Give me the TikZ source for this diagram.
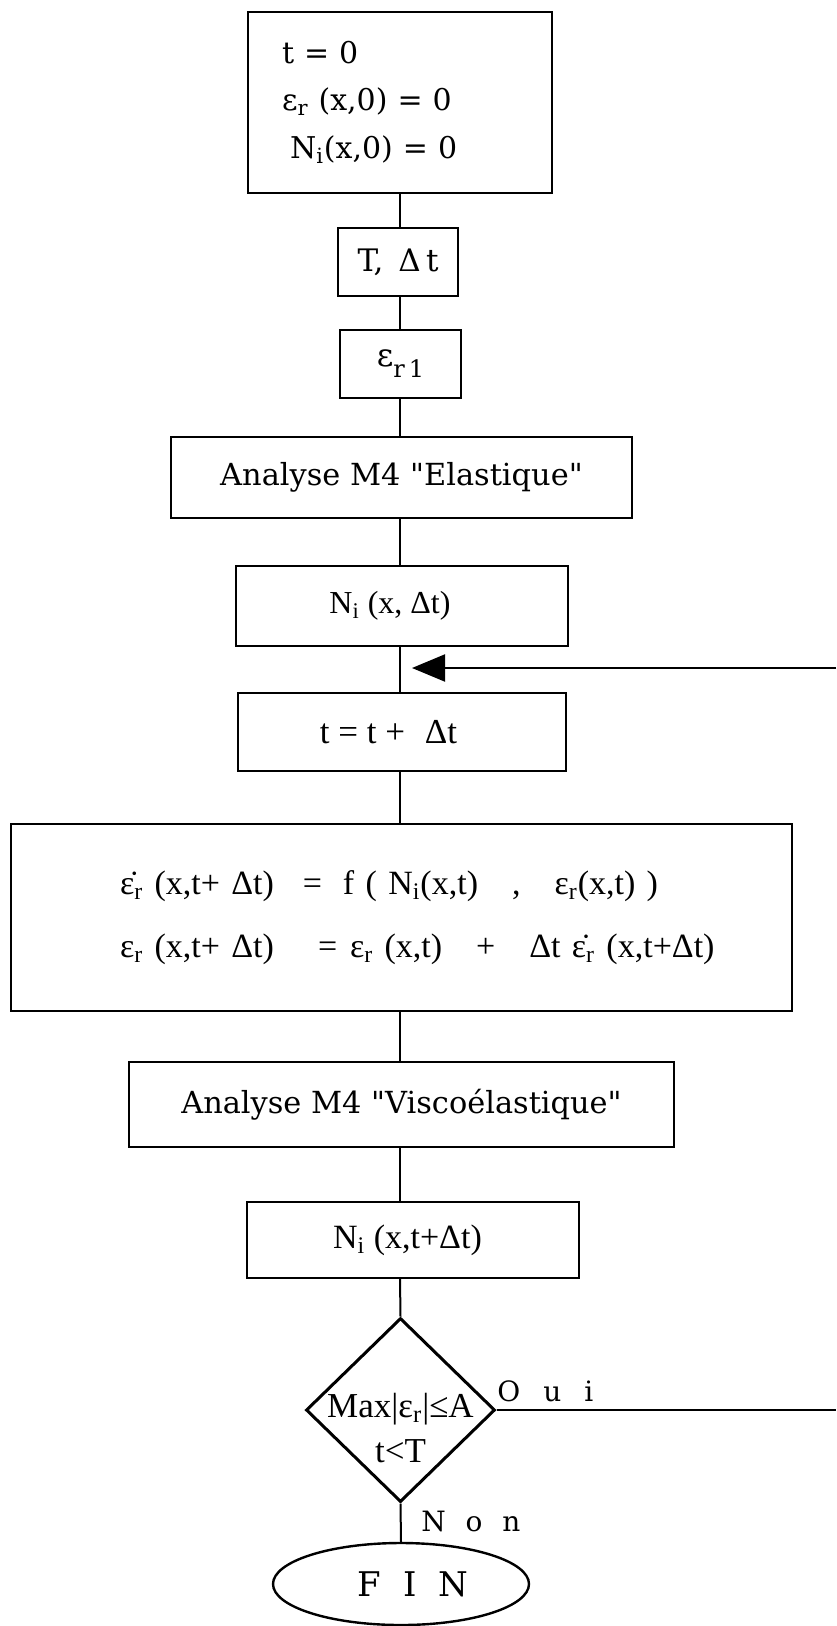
\documentclass[tikz,border=0pt]{standalone}
\usepackage{fontspec}
\newfontfamily\tfam{Liberation Serif}
\newfontfamily\cfam{DejaVu Serif}
\usetikzlibrary{shapes.geometric,arrows.meta}
\newcommand\edot{ε^^^^0307}
\begin{document}
\begin{tikzpicture}[x=0.5pt,y=-0.5pt,
  box/.style={draw,line width=1pt,inner sep=0pt},
  link/.style={line width=1pt},
  cen/.style={font=\cfam\fontsize{15.2}{18}\selectfont},
  tim/.style={font=\tfam\fontsize{16}{19}\selectfont},
  lbl/.style={anchor=base west,inner sep=0pt,font=\cfam\fontsize{14}{17}\selectfont}]
\useasboundingbox (0,0) rectangle (836,1626);

\node[box,minimum width=152pt,minimum height=90.5pt,text width=118pt,align=left,
  font=\cfam\fontsize{15}{23.75}\selectfont] (b1) at (400,102.5)
  {t = 0\\ ε\textsubscript{r} (x,0) = 0\\ \hspace*{4pt}N\textsubscript{i}(x,0) = 0};
\node[box,minimum width=60pt,minimum height=34pt,font=\cfam\fontsize{15.5}{19}\selectfont] (b2) at (398,262)
  {T,\, Δ\,t};
\node[box,minimum width=60.5pt,minimum height=34pt,font=\cfam\fontsize{16}{19}\selectfont] (b3) at (400.5,364)
  {ε\raisebox{-0.35em}{\fontsize{12}{12}\selectfont r\,1}};
\node[box,cen,minimum width=230.5pt,minimum height=40.5pt] (b4) at (401.5,477.5)
  {Analyse M4 "Elastique"};
\node[box,tim,minimum width=166pt,minimum height=40pt] (b5) at (402,606)
  {N\textsubscript{i} (x, Δt)\kern12pt};
\node[box,minimum width=164pt,minimum height=39pt,font=\tfam\fontsize{17.5}{20}\selectfont] (b6) at (402,732)
  {t = t +\hspace{10pt}Δt\kern13.5pt};
\node[box,minimum width=390.5pt,minimum height=93.5pt,text width=380pt,align=left,
  font=\tfam\fontsize{17}{31.5}\selectfont] (b7) at (401.5,917.5)
  {\hspace*{49.25pt}\makebox[91.5pt][l]{\edot\textsubscript{r} (x,t+ Δt)}\makebox[20pt][l]{=}f ( N\textsubscript{i}(x,t)\quad,\quad ε\textsubscript{r}(x,t) )\\
   \hspace*{49.25pt}\makebox[99pt][l]{ε\textsubscript{r} (x,t+ Δt)}\makebox[16pt][l]{=}ε\textsubscript{r} (x,t)\quad+\quad Δt \edot\textsubscript{r} (x,t+Δt)};
\node[box,cen,minimum width=272.5pt,minimum height=42.5pt] (b8) at (401.5,1104.5)
  {Analyse M4 "Viscoélastique"};
\node[box,minimum width=166pt,minimum height=38pt,font=\tfam\fontsize{17}{20}\selectfont] (b9) at (413,1240)
  {N\textsubscript{i} (x,t+Δt)\kern5.5pt};
\node[diamond,draw,line width=1.5pt,minimum width=94.5pt,minimum height=92pt,inner sep=0pt,
  font=\tfam\fontsize{17.5}{22.5}\selectfont] (d) at (400.5,1410)
  {\makebox[0pt]{\raisebox{-14.6pt}[0pt][0pt]{\begin{tabular}{@{}c@{}}Max|ε\textsubscript{r}|≤A\\ t<T\end{tabular}}}};
\node[ellipse,draw,line width=1.2pt,minimum width=128pt,minimum height=41pt,inner sep=0pt,
  font=\cfam\fontsize{17}{20}\selectfont] (fin) at (401,1584)
  {\hspace*{12pt}F\hspace{11pt}I\hspace{11pt}N};
\node[lbl] (oui) at (497,1401) {O\hspace{11.5pt}u\hspace{11.5pt}i};
\node[lbl] (non) at (421,1531) {N\hspace{9.9pt}o\hspace{9.9pt}n};

\coordinate (oexit) at (836,1410);
\coordinate (rin) at (836,668);
\coordinate (tip) at (412,668);

\draw[link] (b1.south) -- (b1.south |- b2.north);
\draw[link] (b2.south -| b1.south) -- (b1.south |- b3.north);
\draw[link] (b3.south -| b1.south) -- (b1.south |- b4.north);
\draw[link] (b4.south -| b1.south) -- (b1.south |- b5.north);
\draw[link] (b5.south -| b1.south) -- (b1.south |- b6.north);
\draw[link] (b6.south -| b1.south) -- (b1.south |- b7.north);
\draw[link] (b7.south -| b1.south) -- (b1.south |- b8.north);
\draw[link] (b8.south -| b1.south) -- (b1.south |- b9.north);
\draw[link] (b9.south -| b1.south) -- (d.north);
\draw[link] (d.south) -- (fin.north);
\draw[link] (d.east) -- (oexit);
\draw[link,-{Triangle[length=16.5pt,width=13.5pt]}] (rin) -- (tip);
\end{tikzpicture}
\end{document}
